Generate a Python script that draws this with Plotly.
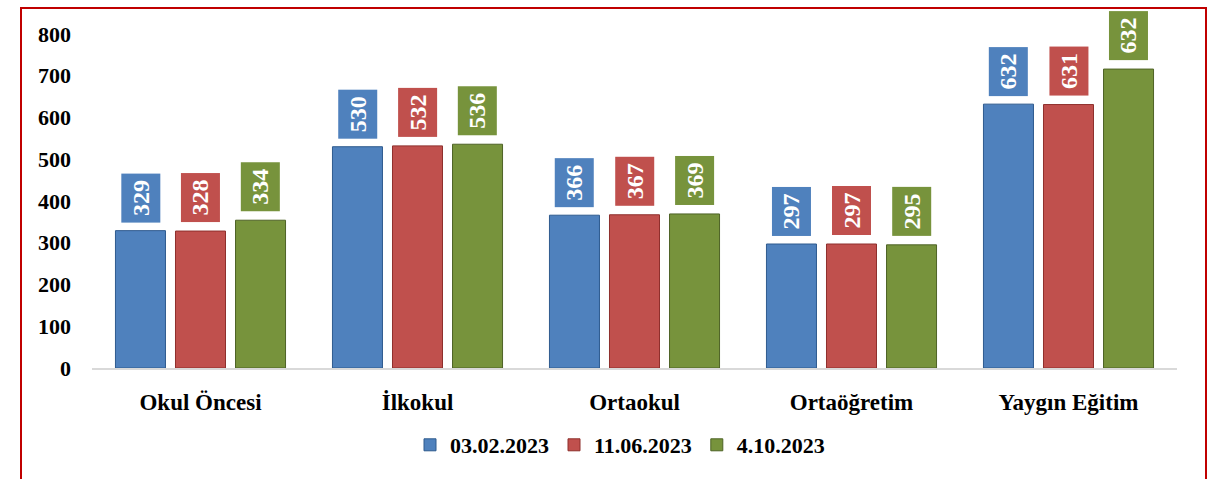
import plotly.graph_objects as go

categories = ["Okul Öncesi", "İlkokul", "Ortaokul", "Ortaöğretim", "Yaygın Eğitim"]
series_names = ["03.02.2023", "11.06.2023", "4.10.2023"]
values_0302 = [329, 530, 366, 297, 632]
values_1106 = [328, 532, 367, 297, 631]
# bar heights as drawn in the picture for the third series
values_0410 = [354, 536, 369, 295, 716]
# labels printed on the third series (differ from drawn heights in the original)
labels_0410 = [334, 536, 369, 295, 632]
y_ticks = [0, 100, 200, 300, 400, 500, 600, 700, 800]

bar_colors = ["#4F81BD", "#C0504D", "#77933C"]
line_colors = ["#2E5A8E", "#8E2F2C", "#4E6326"]

series_vals = [values_0302, values_1106, values_0410]
series_labels = [values_0302, values_1106, labels_0410]

fig = go.Figure()
for name, vals, col, lc in zip(series_names, series_vals, bar_colors, line_colors):
    fig.add_trace(go.Bar(
        x=categories, y=vals, name=name,
        marker=dict(color=col, line=dict(color=lc, width=1)),
    ))

bargap = 0.17
slot = (1 - bargap) / 3
offsets = [-slot, 0, slot]
font_fam = "Liberation Serif, Times New Roman, serif"
annotations = []
for s in range(3):
    for i, cat in enumerate(categories):
        annotations.append(dict(
            x=i + offsets[s], y=series_vals[s][i], xref="x", yref="y",
            text="<b>%d</b>" % series_labels[s][i], showarrow=False,
            textangle=-90, xanchor="center", yanchor="bottom", yshift=8,
            bgcolor=bar_colors[s], borderpad=6,
            font=dict(family=font_fam, size=24, color="white"),
        ))

L, R, T, B = 92, 1177, 34, 368
W, H = 1231, 479
pw, ph = R - L, B - T

def px_x(x):
    return (x - L) / pw

def px_y(y):
    return (B - y) / ph

fig.update_layout(
    width=W, height=H,
    margin=dict(l=L, r=W - R, t=T, b=H - B, pad=0),
    paper_bgcolor="white", plot_bgcolor="white",
    barmode="group", bargap=bargap, bargroupgap=0.167,
    font=dict(family=font_fam, size=22, color="black"),
    annotations=annotations,
    showlegend=True,
    legend=dict(orientation="h", x=px_x(620), xanchor="center",
                y=px_y(445), yanchor="middle",
                font=dict(family=font_fam, size=22, color="black", weight="bold"),
                itemwidth=30, traceorder="normal"),
    shapes=[dict(type="rect", xref="paper", yref="paper",
                 x0=px_x(21), x1=px_x(1206), y0=px_y(520), y1=px_y(8),
                 line=dict(color="#C00000", width=2), fillcolor="rgba(0,0,0,0)",
                 layer="below")],
)
fig.update_xaxes(
    showgrid=False, showline=True, linecolor="#D9D9D9", linewidth=2,
    ticks="", ticklabelstandoff=12,
    tickfont=dict(family=font_fam, size=23, color="black", weight="bold"),
)
fig.update_yaxes(
    range=[0, 800], tickvals=y_ticks, showgrid=False, zeroline=False,
    showline=False, ticks="", ticklabelstandoff=20,
    tickfont=dict(family=font_fam, size=22, color="black", weight="bold"),
)

fig.write_html("out.html", config={"displayModeBar": False},
               post_script="document.body.style.margin='0';document.body.style.overflow='hidden';")
